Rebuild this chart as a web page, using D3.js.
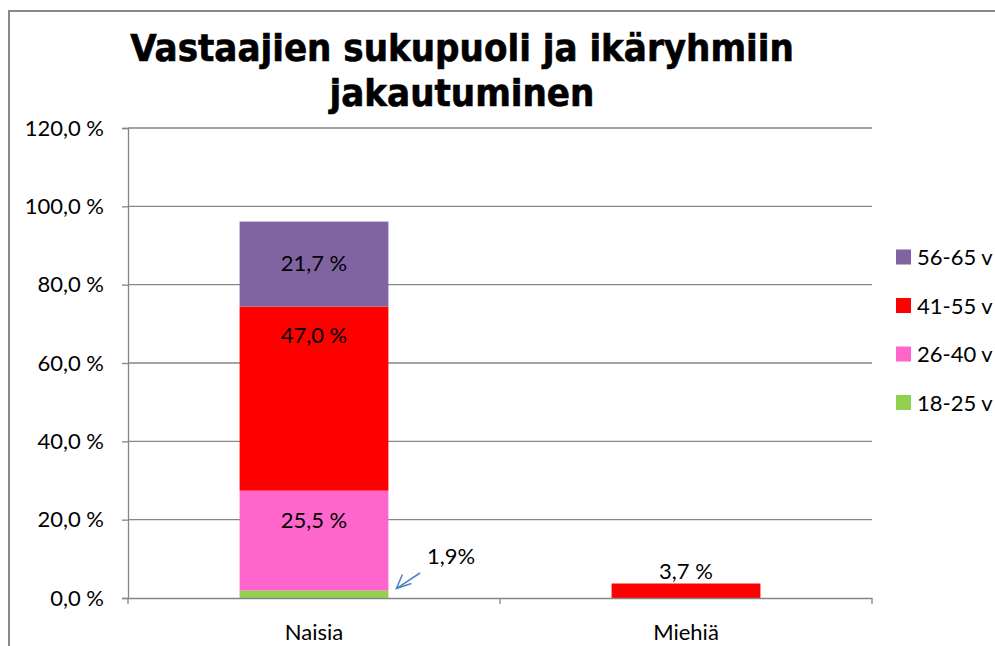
<!DOCTYPE html>
<html><head><meta charset="utf-8">
<script src="https://cdn.jsdelivr.net/npm/d3@7"></script>
<style>body{margin:0;background:#fff;overflow:hidden}svg{display:block}</style>
</head><body>
<script>
const categories = ["Naisia", "Miehiä"];
const seriesNames = ["18-25 v", "26-40 v", "41-55 v", "56-65 v"];
const seriesColors = ["#92d050", "#ff66cc", "#ff0000", "#8064a2"];
const values = { // by series, per category
  "18-25 v": [1.9, 0],
  "26-40 v": [25.5, 0],
  "41-55 v": [47.0, 3.7],
  "56-65 v": [21.7, 0]
};
const yTicks = [0, 20, 40, 60, 80, 100, 120];
const titleLines = ["Vastaajien sukupuoli ja ikäryhmiin", "jakautuminen"];

const W = 995, H = 646;
const svg = d3.select("body").append("svg").attr("width", W).attr("height", H);
const font = "Lato, 'Open Sans', sans-serif";
const fs = 22;

// outer frame
svg.append("rect").attr("x", 9).attr("y", 11).attr("width", 1100).attr("height", 800)
  .attr("fill", "none").attr("stroke", "#888").attr("stroke-width", 2);

const plot = {l: 128, r: 872, t: 128, b: 598};
const y = d3.scaleLinear().domain([0, 120]).range([plot.b, plot.t]);
const x = d3.scaleBand().domain(categories).range([plot.l, plot.r]).paddingInner(0).paddingOuter(0);
const barW = x.bandwidth() * 0.4;

// gridlines
svg.append("g").selectAll("line").data(yTicks.filter(d => d > 0)).join("line")
  .attr("x1", plot.l).attr("x2", plot.r).attr("y1", d => y(d)).attr("y2", d => y(d))
  .attr("stroke", "#868686").attr("stroke-width", 1.3);

// y axis
const yAxis = d3.axisLeft(y).tickValues(yTicks).tickSize(6).tickPadding(18)
  .tickFormat(d => d3.format(".1f")(d).replace(".", ",") + " %");
const gy = svg.append("g").attr("transform", `translate(${plot.l},0)`).call(yAxis);
gy.select(".domain").attr("stroke", "#868686").attr("stroke-width", 1.3);
gy.selectAll(".tick line").attr("stroke", "#868686").attr("stroke-width", 1.3);
gy.selectAll("text").attr("font-family", font).attr("font-size", fs).attr("fill", "#000");

// stacked data
const table = categories.map((c, i) => {
  const o = {cat: c};
  seriesNames.forEach(s => o[s] = values[s][i]);
  return o;
});
const stack = d3.stack().keys(seriesNames)(table);
const gb = svg.append("g");
stack.forEach((layer, si) => {
  gb.selectAll(null).data(layer.filter(d => d[1] - d[0] > 0)).join("rect")
    .attr("x", d => x(d.data.cat) + (x.bandwidth() - barW) / 2)
    .attr("width", barW)
    .attr("y", d => y(d[1]))
    .attr("height", d => y(d[0]) - y(d[1]))
    .attr("fill", seriesColors[si]);
});

// x axis
const xAxis = d3.axisBottom(x).tickSize(0).tickPadding(26);
const gx = svg.append("g").attr("transform", `translate(0,${plot.b})`).call(xAxis);
gx.select(".domain").attr("stroke", "#868686").attr("stroke-width", 1.3);
gx.selectAll("text").attr("font-family", font).attr("font-size", fs).attr("fill", "#000");
gx.selectAll(null).data([plot.l, plot.l + x.bandwidth(), plot.r]).join("line")
  .attr("x1", d => d).attr("x2", d => d).attr("y1", 0).attr("y2", 6)
  .attr("stroke", "#868686").attr("stroke-width", 1.3);

// data labels
const fmt = v => d3.format(".1f")(v).replace(".", ",") + " %";
const lab = svg.append("g").attr("font-family", font).attr("font-size", fs).attr("fill", "#000").attr("text-anchor", "middle");
const cx0 = x("Naisia") + x.bandwidth() / 2, cx1 = x("Miehiä") + x.bandwidth() / 2;
const s = stack;
lab.append("text").attr("x", cx0).attr("y", (y(s[3][0][0]) + y(s[3][0][1])) / 2 + 7).text(fmt(values["56-65 v"][0]));
lab.append("text").attr("x", cx0).attr("y", y(s[2][0][1]) + 36).text(fmt(values["41-55 v"][0]));
lab.append("text").attr("x", cx0).attr("y", y(s[1][0][0]) - 63).text(fmt(values["26-40 v"][0]));
lab.append("text").attr("x", cx1).attr("y", y(values["41-55 v"][1]) - 5).text(fmt(values["41-55 v"][1]));
lab.append("text").attr("x", 451).attr("y", y(values["18-25 v"][0]) - 27).text(d3.format(".1f")(values["18-25 v"][0]).replace(".", ",") + "%");

// arrow
const ax0 = 420, ay0 = 573, ax1 = x("Naisia") + (x.bandwidth() + barW) / 2 + 8, ay1 = y(values["18-25 v"][0]) - 2;
const arr = svg.append("g").attr("stroke", "#4f81bd").attr("stroke-width", 1.5).attr("fill", "none");
arr.append("line").attr("x1", ax0).attr("y1", ay0).attr("x2", ax1).attr("y2", ay1);
arr.append("polyline").attr("points", `${ax1 + 6},${ay1 - 14} ${ax1},${ay1} ${ax1 + 15},${ay1 - 5}`);

// legend
const legendOrder = seriesNames.slice().reverse();
const lg = svg.append("g");
legendOrder.forEach((n, i) => {
  const cy = 257 + i * 48.5;
  lg.append("rect").attr("x", 896).attr("y", cy - 7.5).attr("width", 15).attr("height", 15)
    .attr("fill", seriesColors[seriesNames.indexOf(n)]);
  lg.append("text").attr("x", 917).attr("y", cy + 8).attr("font-family", font).attr("font-size", fs)
    .attr("fill", "#000").text(n);
});

// title
const tg = svg.append("g").attr("font-family", "'DejaVu Sans Condensed', 'DejaVu Sans', sans-serif")
  .attr("font-weight", "bold").attr("font-size", 38).attr("fill", "#000").attr("text-anchor", "middle")
  .attr("stroke", "#000").attr("stroke-width", 0.6);
titleLines.forEach((t, i) => {
  tg.append("text").attr("x", 462).attr("y", 61 + i * 45).text(t);
});
</script>
</body></html>
